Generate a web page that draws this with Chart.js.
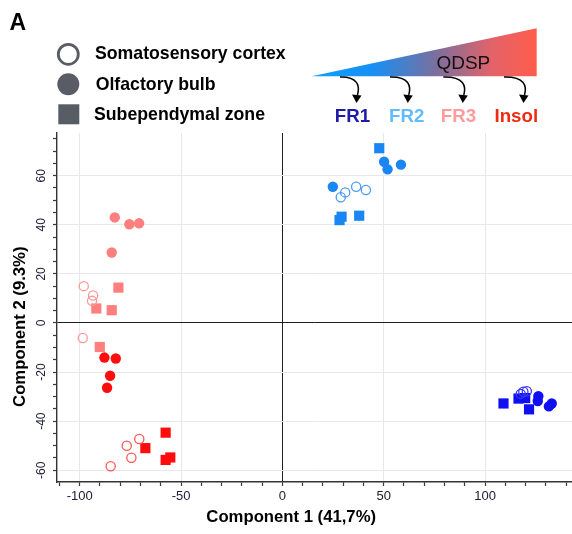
<!DOCTYPE html>
<html>
<head>
<meta charset="utf-8">
<script src="https://cdn.jsdelivr.net/npm/chart.js@4.4.1/dist/chart.umd.min.js"></script>
<style>
  html, body { margin: 0; padding: 0; background: #fff; }
  canvas { display: block; }
</style>
</head>
<body>
<canvas id="pca" width="572" height="534"></canvas>
<script>
// Fractions and tissues
const fractions = ['FR1', 'FR2', 'FR3', 'Insol'];
const tissues = ['Somatosensory cortex', 'Olfactory bulb', 'Subependymal zone'];

// PCA scores, [component 1, component 2], per fraction and tissue
const fr1Cortex  = [[117.6, -28.9], [118.9, -28.0], [120.6, -27.8]];
const fr1Bulb    = [[126.3, -29.8], [126.0, -31.8], [132.9, -32.8], [131.5, -34.0]];
const fr1Sez     = [[109.1, -32.8], [116.5, -30.8], [119.8, -30.6], [121.7, -35.2]];

const fr2Cortex  = [[36.4, 55.5], [41.2, 54.2], [31.0, 53.2], [28.8, 51.2]];
const fr2Bulb    = [[50.2, 65.7], [51.9, 62.6], [58.5, 64.5], [24.9, 55.5]];
const fr2Sez     = [[47.8, 71.2], [29.2, 43.3], [28.2, 41.9], [37.9, 43.7]];

const fr3Cortex  = [[-98.0, 15.0], [-93.4, 11.2], [-93.9, 9.0], [-98.5, -6.1]];
const fr3Bulb    = [[-82.7, 43.0], [-75.5, 40.2], [-70.7, 40.6], [-84.2, 28.7]];
const fr3Sez     = [[-80.9, 14.4], [-91.8, 5.9], [-84.2, 5.2], [-90.1, -9.8]];

const insolCortex = [[-70.6, -47.3], [-76.8, -50.0], [-74.5, -54.9], [-84.7, -58.4]];
const insolBulb   = [[-87.8, -14.1], [-82.2, -14.5], [-85.0, -21.5], [-86.5, -26.4]];
const insolSez    = [[-57.6, -44.7], [-67.6, -51.0], [-57.6, -55.8], [-55.3, -54.8]];

// Axis ticks
const xTickValues = [-110, -100, -90, -80, -70, -60, -50, -40, -30, -20, -10, 0, 10, 20, 30, 40, 50, 60, 70, 80, 90, 100, 110, 120, 130, 140];
const xTickLabels = [-100, -50, 0, 50, 100];
const yTickValues = [-60, -55, -50, -45, -40, -35, -30, -25, -20, -15, -10, -5, 0, 5, 10, 15, 20, 25, 30, 35, 40, 45, 50, 55, 60, 65, 70, 75];
const yTickLabels = [-60, -40, -20, 0, 20, 40, 60];

// Colours per fraction: filled marks and open-circle outlines
const fillColors = { FR1: '#0f0ff2', FR2: '#1a86f4', FR3: '#ff7e7e', Insol: '#ff0d0d' };
const lineColors = { FR1: '#3838f4', FR2: '#4b9bf6', FR3: '#ff9797', Insol: '#ff5656' };
const labelColors = { FR1: '#1c1ca6', FR2: '#62bcfb', FR3: '#ff9b9b', Insol: '#ef2b12' };

const groups = {
  FR1: [fr1Cortex, fr1Bulb, fr1Sez],
  FR2: [fr2Cortex, fr2Bulb, fr2Sez],
  FR3: [fr3Cortex, fr3Bulb, fr3Sez],
  Insol: [insolCortex, insolBulb, insolSez]
};

const toPoints = arr => arr.map(p => ({ x: p[0], y: p[1] }));

const datasets = [];
[0, 1, 2].forEach(t => {
  fractions.forEach(f => {
    const pts = toPoints(groups[f][t]);
    if (t === 0) {
      datasets.push({ label: f + ' ' + tissues[t], data: pts, pointStyle: 'circle', pointRadius: 4.6,
        backgroundColor: 'rgba(0,0,0,0)', borderColor: lineColors[f], borderWidth: 1.3 });
    } else if (t === 1) {
      datasets.push({ label: f + ' ' + tissues[t], data: pts, pointStyle: 'circle', pointRadius: 5.2,
        backgroundColor: fillColors[f], borderColor: fillColors[f], borderWidth: 0 });
    } else {
      datasets.push({ label: f + ' ' + tissues[t], data: pts, pointStyle: 'rect', pointRadius: 7.2,
        backgroundColor: fillColors[f], borderColor: fillColors[f], borderWidth: 0 });
    }
  });
});

const FONT = '"Liberation Sans", Arial, Helvetica, sans-serif';

function gridColor(ctx, majors) {
  const v = ctx.tick ? ctx.tick.value : null;
  if (v === 0) return '#1e1e1e';
  if (majors.includes(v)) return '#e8e8e8';
  return 'rgba(0,0,0,0)';
}

// Header, legend, fraction diagram, rotated y tick labels and axis titles
const decorations = {
  id: 'decorations',
  afterDraw(chart) {
    const c = chart.ctx;
    const ys = chart.scales.y;
    c.save();

    // panel letter
    c.fillStyle = '#000';
    c.font = 'bold 23px ' + FONT;
    c.textAlign = 'left';
    c.textBaseline = 'alphabetic';
    c.fillText('A', 9.5, 29.5);

    // tissue legend
    const legendGray = '#585c64';
    c.strokeStyle = legendGray;
    c.lineWidth = 2.8;
    c.beginPath(); c.arc(68.3, 54.3, 10, 0, Math.PI * 2); c.stroke();
    c.fillStyle = legendGray;
    c.beginPath(); c.arc(68.3, 84.3, 11, 0, Math.PI * 2); c.fill();
    c.fillRect(58.3, 104.3, 21, 20);
    c.fillStyle = '#000';
    c.font = 'bold 17.7px ' + FONT;
    c.textBaseline = 'middle';
    c.fillText(tissues[0], 95, 54.5);
    c.fillText(tissues[1], 95.7, 85);
    c.fillText(tissues[2], 94, 115);

    // solubility gradient wedge
    const g = c.createLinearGradient(311.7, 0, 536.7, 0);
    g.addColorStop(0, '#0aa2ff');
    g.addColorStop(0.28, '#1a8ef2');
    g.addColorStop(0.55, '#7a6f9e');
    g.addColorStop(0.8, '#e2636a');
    g.addColorStop(1, '#ff5c4a');
    c.fillStyle = g;
    c.beginPath();
    c.moveTo(311.7, 76.3);
    c.lineTo(536.7, 28.3);
    c.lineTo(536.7, 76.3);
    c.closePath();
    c.fill();

    c.fillStyle = '#111';
    c.font = '19px ' + FONT;
    c.textAlign = 'center';
    c.textBaseline = 'alphabetic';
    c.fillText('QDSP', 463.3, 68.5);

    // curved arrows from the wedge to each fraction
    const arrows = [[340, 357], [390, 408.3], [443.3, 463.3], [504, 524]];
    c.strokeStyle = '#000';
    c.fillStyle = '#000';
    c.lineWidth = 1.5;
    arrows.forEach(([x0, x1]) => {
      c.beginPath();
      c.moveTo(x0, 77);
      c.bezierCurveTo(x1 + 1, 76.5, x1 + 3, 86, x1 + 0.5, 95);
      c.stroke();
      c.beginPath();
      c.moveTo(x1 - 0.5, 103);
      c.lineTo(x1 - 5, 94.5);
      c.lineTo(x1 + 4.5, 95.5);
      c.closePath();
      c.fill();
    });

    // fraction labels
    const labelX = { FR1: 352.5, FR2: 406.7, FR3: 458.5, Insol: 516.3 };
    c.font = 'bold 18.7px ' + FONT;
    fractions.forEach(f => {
      c.fillStyle = labelColors[f];
      c.fillText(f, labelX[f], 121.7);
    });

    // y tick labels, rotated
    c.fillStyle = '#202038';
    c.font = '12px ' + FONT;
    c.textAlign = 'center';
    c.textBaseline = 'middle';
    yTickLabels.forEach(v => {
      const py = ys.getPixelForValue(v);
      c.save();
      c.translate(42, py);
      c.rotate(-Math.PI / 2);
      c.fillText(String(v), 0, 0);
      c.restore();
    });

    // axis titles
    c.fillStyle = '#000';
    c.font = 'bold 16.7px ' + FONT;
    c.fillText('Component 1 (41,7%)', 291.2, 517);
    c.save();
    c.translate(20.7, 326.7);
    c.rotate(-Math.PI / 2);
    c.fillText('Component 2 (9.3%)', 0, 0);
    c.restore();

    c.restore();
  }
};

new Chart(document.getElementById('pca'), {
  type: 'scatter',
  data: { datasets },
  options: {
    responsive: false,
    animation: false,
    devicePixelRatio: 1,
    layout: { autoPadding: false, padding: { top: 133, left: 0, right: 0, bottom: 0 } },
    plugins: { legend: { display: false }, tooltip: { enabled: false }, title: { display: false } },
    scales: {
      x: {
        type: 'linear',
        min: -111.2,
        max: 142.9,
        afterBuildTicks: s => { s.ticks = xTickValues.map(v => ({ value: v })); },
        afterFit: s => { s.height = 52; },
        ticks: {
          autoSkip: false,
          maxRotation: 0,
          minRotation: 0,
          padding: 3,
          color: '#202038',
          font: { family: FONT, size: 13 },
          callback: v => (xTickLabels.includes(v) ? String(v) : '')
        },
        grid: {
          color: ctx => gridColor(ctx, xTickLabels),
          lineWidth: 1,
          tickColor: '#3a3a3a',
          tickLength: 4,
          tickWidth: 1.2,
          drawTicks: true
        },
        border: { display: true, color: '#333', width: 1.4 }
      },
      y: {
        type: 'linear',
        min: -64.8,
        max: 77.4,
        afterBuildTicks: s => { s.ticks = yTickValues.map(v => ({ value: v })); },
        afterFit: s => { s.width = 57; },
        ticks: { display: false, autoSkip: false },
        grid: {
          color: ctx => gridColor(ctx, yTickLabels),
          lineWidth: 1,
          tickColor: '#3a3a3a',
          tickLength: 4,
          tickWidth: 1.2,
          drawTicks: true
        },
        border: { display: true, color: '#333', width: 1.4 }
      }
    }
  },
  plugins: [decorations]
});
</script>
</body>
</html>
